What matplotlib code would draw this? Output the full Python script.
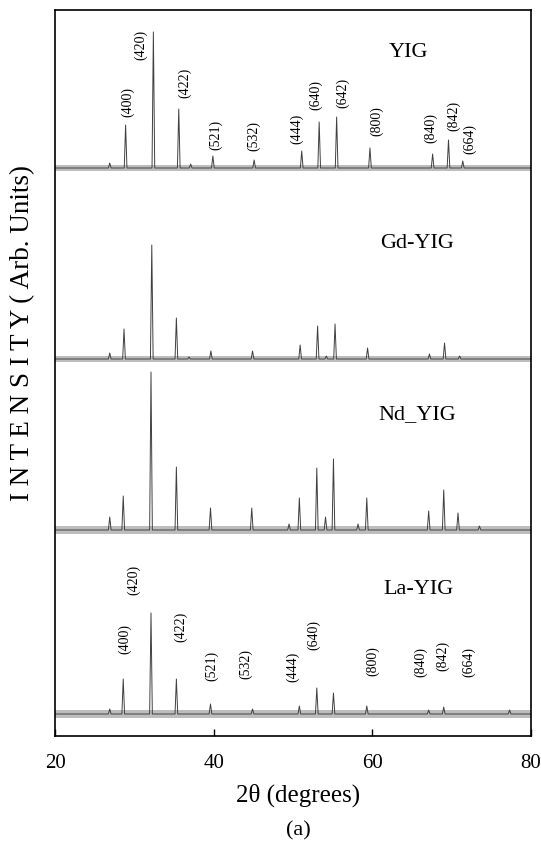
import numpy as np
import matplotlib
matplotlib.use('Agg')
import matplotlib.pyplot as plt

plt.rcParams['font.family'] = ['Liberation Serif', 'DejaVu Serif']

# samples (top to bottom), baseline offset and baseline noise half-band (arb. units)
samples = ['YIG', 'Gd-YIG', 'Nd_YIG', 'La-YIG']
offsets = [568, 377, 206, 22]
noise_amp = [3, 3, 4, 4]

# peak positions (2theta) and heights above baseline
yig_pos = [26.9, 28.9, 32.4, 35.6, 37.1, 39.9, 45.1, 51.1, 53.3, 55.5, 59.7, 67.6, 69.6, 71.4]
yig_h = [5, 43, 136, 59, 4, 12, 8, 17, 46, 51, 20, 14, 28, 7]

gd_pos = [26.9, 28.7, 32.2, 35.3, 36.9, 39.65, 44.9, 50.9, 53.1, 54.2, 55.3, 59.4, 67.2, 69.1, 71.0]
gd_h = [6, 30, 114, 41, 2, 8, 8, 14, 33, 3, 35, 11, 5, 16, 3]

nd_pos = [26.9, 28.6, 32.1, 35.3, 39.6, 44.8, 49.5, 50.8, 53.0, 54.1, 55.1, 58.2, 59.3, 67.1, 69.0, 70.8, 73.5]
nd_h = [13, 34, 158, 63, 22, 22, 6, 32, 62, 13, 71, 6, 32, 19, 40, 17, 4]

la_pos = [26.9, 28.6, 32.1, 35.3, 39.6, 44.9, 50.8, 53.0, 55.1, 59.3, 67.1, 69.0, 77.3]
la_h = [5, 35, 101, 35, 10, 5, 8, 26, 21, 8, 4, 7, 4]

peak_pos = [yig_pos, gd_pos, nd_pos, la_pos]
peak_h = [yig_h, gd_h, nd_h, la_h]

# (hkl) labels for YIG and La-YIG: text, x (2theta), y (arb. units)
hkl = ['(400)', '(420)', '(422)', '(521)', '(532)', '(444)', '(640)', '(642)', '(800)', '(840)', '(842)', '(664)']
yig_lab_x = [29.1, 30.8, 36.3, 40.3, 45.1, 50.5, 52.9, 56.2, 60.6, 67.3, 70.2, 72.3]
yig_lab_y = [634, 691, 653, 601, 600, 607, 641, 643, 615, 608, 620, 597]

la_hkl = ['(400)', '(420)', '(422)', '(521)', '(532)', '(444)', '(640)', '(800)', '(840)', '(842)', '(664)']
la_lab_x = [28.8, 29.9, 35.8, 39.7, 44.0, 49.9, 52.6, 60.1, 66.1, 68.8, 72.1]
la_lab_y = [97, 156, 109, 70, 72, 69, 101, 75, 74, 80, 74]

name_x = [64.6, 65.7, 65.6, 65.8]
name_y = [684, 493, 321, 146]

fig = plt.figure(figsize=(5.41, 8.49), dpi=100)
ax = fig.add_axes([55/541, 113/849, 476/541, 726/849])

hw = 0.17  # half width of the drawn peaks
for pos, h, base, amp in zip(peak_pos, peak_h, offsets, noise_amp):
    xs = [20.0]
    ys = [base]
    for p, v in sorted(zip(pos, h)):
        xs += [p - hw, p, p + hw]
        ys += [base, base + v, base]
    xs.append(80.0)
    ys.append(base)
    ax.fill_between([20, 80], [base - amp] * 2, [base + amp] * 2, color='#bdbdbd', lw=0)
    ax.plot(xs, ys, color='#404040', lw=0.7)

for t, x, y in zip(hkl, yig_lab_x, yig_lab_y):
    ax.text(x, y, t, rotation=90, ha='center', va='center', fontsize=10)
for t, x, y in zip(la_hkl, la_lab_x, la_lab_y):
    ax.text(x, y, t, rotation=90, ha='center', va='center', fontsize=10)

for n, x, y in zip(samples, name_x, name_y):
    ax.text(x, y, n, ha='center', va='center', fontsize=16)

ax.set_xlim(20, 80)
ax.set_ylim(0, 726)
ax.set_xticks([20, 40, 60, 80])
ax.set_yticks([])
ax.tick_params(axis='x', direction='in', length=5, width=1, labelsize=15, pad=13)
for s in ax.spines.values():
    s.set_linewidth(1.2)

fig.text(298/541, 1 - 795/849, '2θ (degrees)', ha='center', va='center', fontsize=18)
fig.text(298/541, 1 - 831/849, '(a)', ha='center', va='center', fontsize=16)
fig.text(23/541, 1 - 333/849, 'I N T E N S I T Y ( Arb. Units)', rotation=90,
         ha='center', va='center', fontsize=19.5)

fig.savefig('out.png', dpi=100)
